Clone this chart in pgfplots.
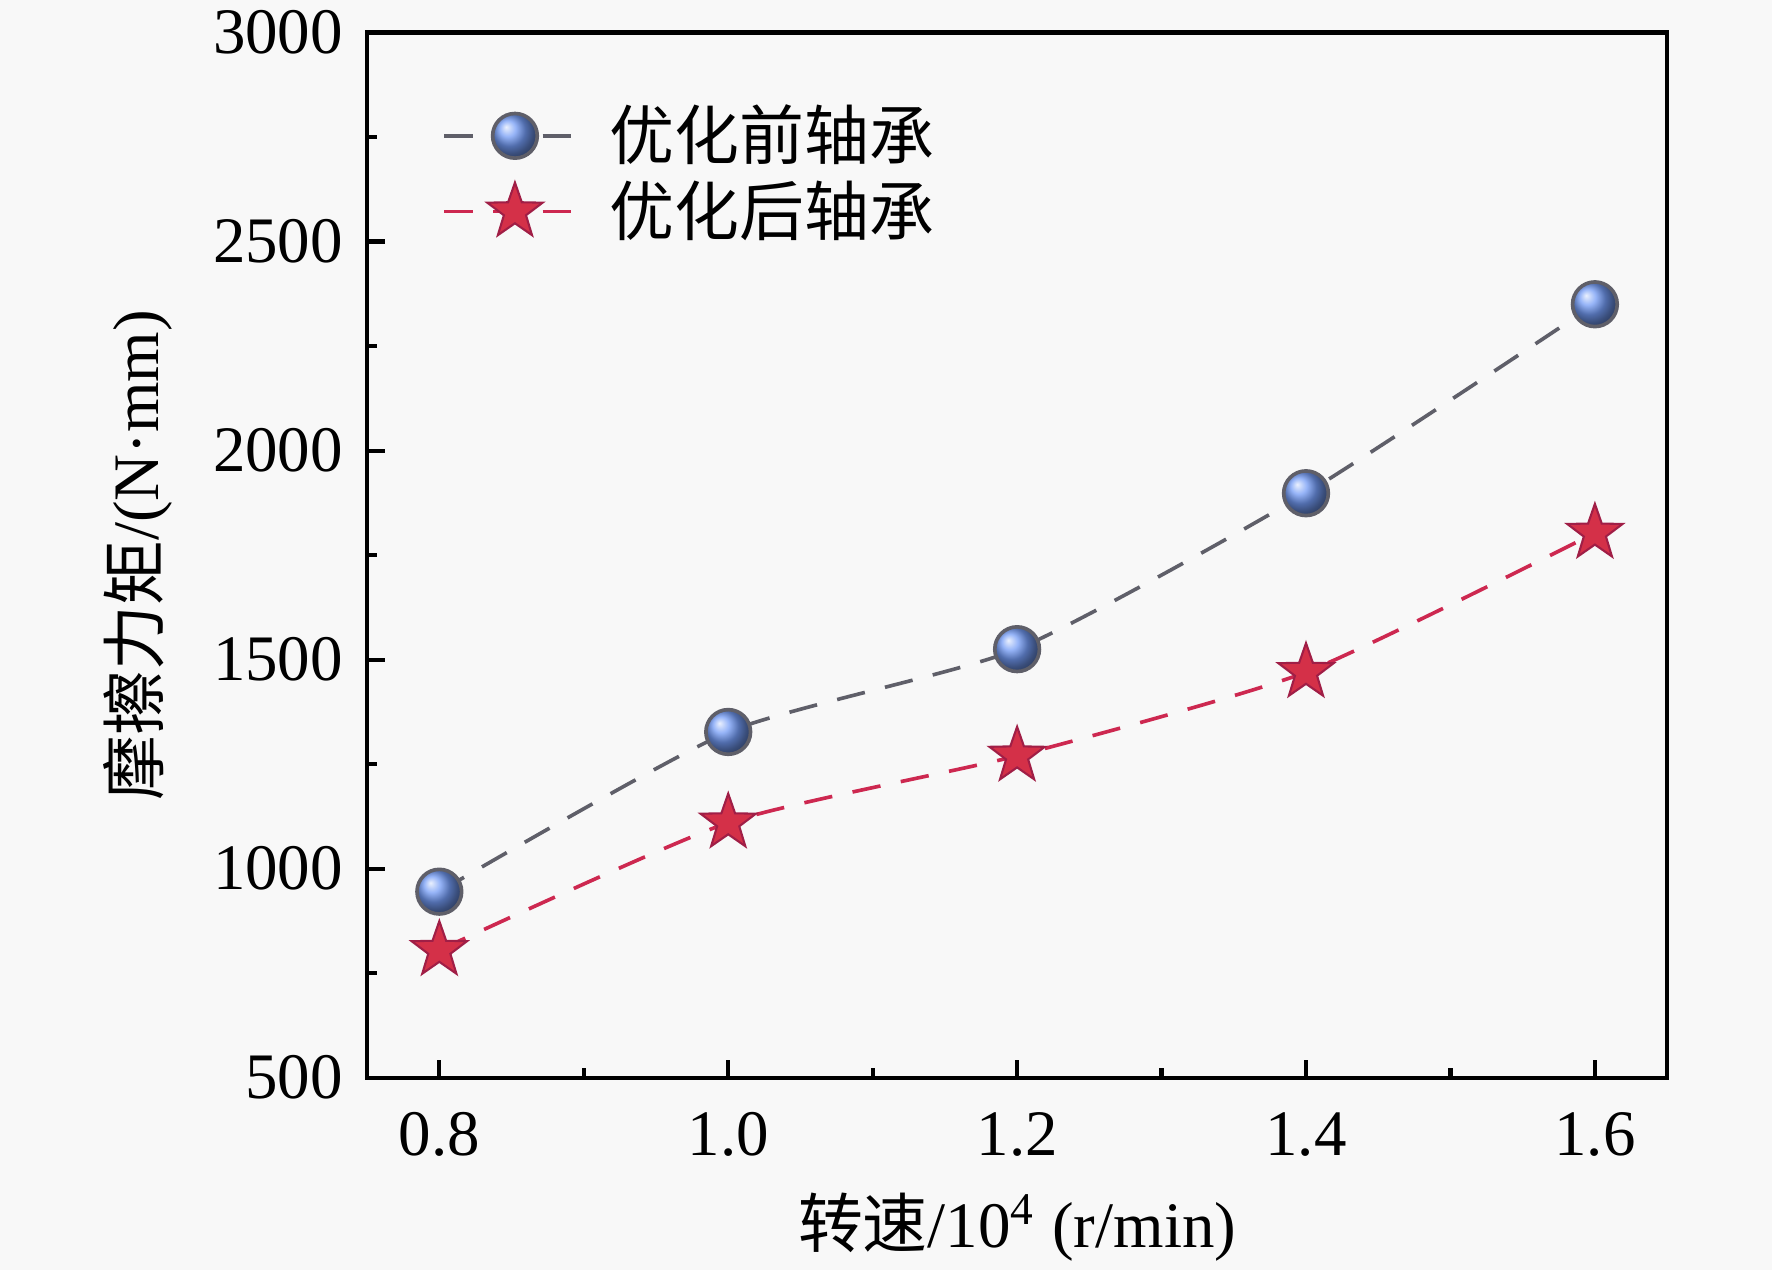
\documentclass[border=0pt]{standalone}
\usepackage{pgfplots}
\pgfplotsset{compat=1.18}
\usepackage{fontspec}
\setmainfont{Liberation Serif}
\newfontfamily\cjk{Noto Sans CJK SC}
\usetikzlibrary{backgrounds}
\definecolor{bgc}{RGB}{248,248,248}
\definecolor{ballblue}{RGB}{115,155,245}
\definecolor{lgray}{RGB}{95,95,105}
\definecolor{starred}{RGB}{212,48,72}
\definecolor{stardraw}{RGB}{160,30,70}
\definecolor{lred}{RGB}{205,40,80}
\pgfdeclareplotmark{fstar}{%
  \pgfpathmoveto{\pgfqpointpolar{90}{\pgfplotmarksize}}%
  \pgfpathlineto{\pgfqpointpolar{126}{0.40\pgfplotmarksize}}%
  \pgfpathlineto{\pgfqpointpolar{162}{\pgfplotmarksize}}%
  \pgfpathlineto{\pgfqpointpolar{198}{0.40\pgfplotmarksize}}%
  \pgfpathlineto{\pgfqpointpolar{234}{\pgfplotmarksize}}%
  \pgfpathlineto{\pgfqpointpolar{270}{0.40\pgfplotmarksize}}%
  \pgfpathlineto{\pgfqpointpolar{306}{\pgfplotmarksize}}%
  \pgfpathlineto{\pgfqpointpolar{342}{0.40\pgfplotmarksize}}%
  \pgfpathlineto{\pgfqpointpolar{18}{\pgfplotmarksize}}%
  \pgfpathlineto{\pgfqpointpolar{54}{0.40\pgfplotmarksize}}%
  \pgfpathclose
  \pgfusepathqfillstroke}
\begin{document}
\begin{tikzpicture}
\begin{axis}[
  scale only axis,
  width=8.80cm, height=7.075cm,
  xmin=0.75, xmax=1.65, ymin=500, ymax=3000,
  xtick={0.8,1.0,1.2,1.4,1.6},
  ytick={500,1000,1500,2000,2500,3000},
  minor x tick num=1, minor y tick num=1,
  tick align=inside,
  xtick pos=bottom, ytick pos=left,
  major tick length=0.12cm, minor tick length=0.065cm,
  axis line style={line width=0.8pt},
  every tick/.style={black, line width=0.8pt},
  font=\fontsize{12.5}{15}\selectfont,
  /pgf/number format/assume math mode=true,
  xticklabel style={/pgf/number format/fixed, /pgf/number format/fixed zerofill, /pgf/number format/precision=1, yshift=-0.11cm},
  yticklabel style={/pgf/number format/1000 sep={}, xshift=-0.04cm},
  every axis y label/.style={at={(axis description cs:-0.176,0.5)}, rotate=90, anchor=center},
  every axis x label/.style={at={(axis description cs:0.5,0)}, anchor=center, yshift=-1.01cm},
  ylabel={{\cjk 摩擦力矩}/(N·mm)},
  xlabel={{\cjk 转速}/10\textsuperscript{4} (r/min)},
  legend style={draw=none, fill=none, at={(0.045,0.952)}, anchor=north west,
    font=\fontsize{12.5}{15}\selectfont, row sep=-0.05cm,
    /tikz/every odd column/.append style={column sep=0.08cm}},
  legend cell align=left,
  legend image code/.code={\draw[#1, mark repeat=2, mark phase=2] plot coordinates {(0cm,0cm) (0.48cm,0cm) (0.96cm,0cm)};},
]
\addplot[lgray, line width=0.7pt, dash pattern=on 5.5pt off 4pt, smooth, tension=0.35,
  mark=ball, mark size=4.3pt, mark options={solid, ball color=ballblue}]
  coordinates {(0.8,945) (1.0,1327) (1.2,1525) (1.4,1898) (1.6,2350)};
\addlegendentry{\cjk 优化前轴承}
\addplot[lred, line width=0.7pt, dash pattern=on 5.5pt off 4pt, smooth, tension=0.35,
  mark=fstar, mark size=5.6pt, mark options={solid, fill=starred, draw=stardraw, line width=0.4pt}]
  coordinates {(0.8,805) (1.0,1110) (1.2,1270) (1.4,1470) (1.6,1803)};
\addlegendentry{\cjk 优化后轴承}
\end{axis}
\pgfresetboundingbox
\path[use as bounding box] ([xshift=-2.485cm,yshift=-1.30cm]current axis.south west) rectangle ([xshift=0.71cm,yshift=0.22cm]current axis.north east);
\begin{scope}[on background layer]
\fill[bgc] ([xshift=-2.485cm,yshift=-1.30cm]current axis.south west) rectangle ([xshift=0.71cm,yshift=0.22cm]current axis.north east);
\end{scope}
\end{tikzpicture}
\end{document}
